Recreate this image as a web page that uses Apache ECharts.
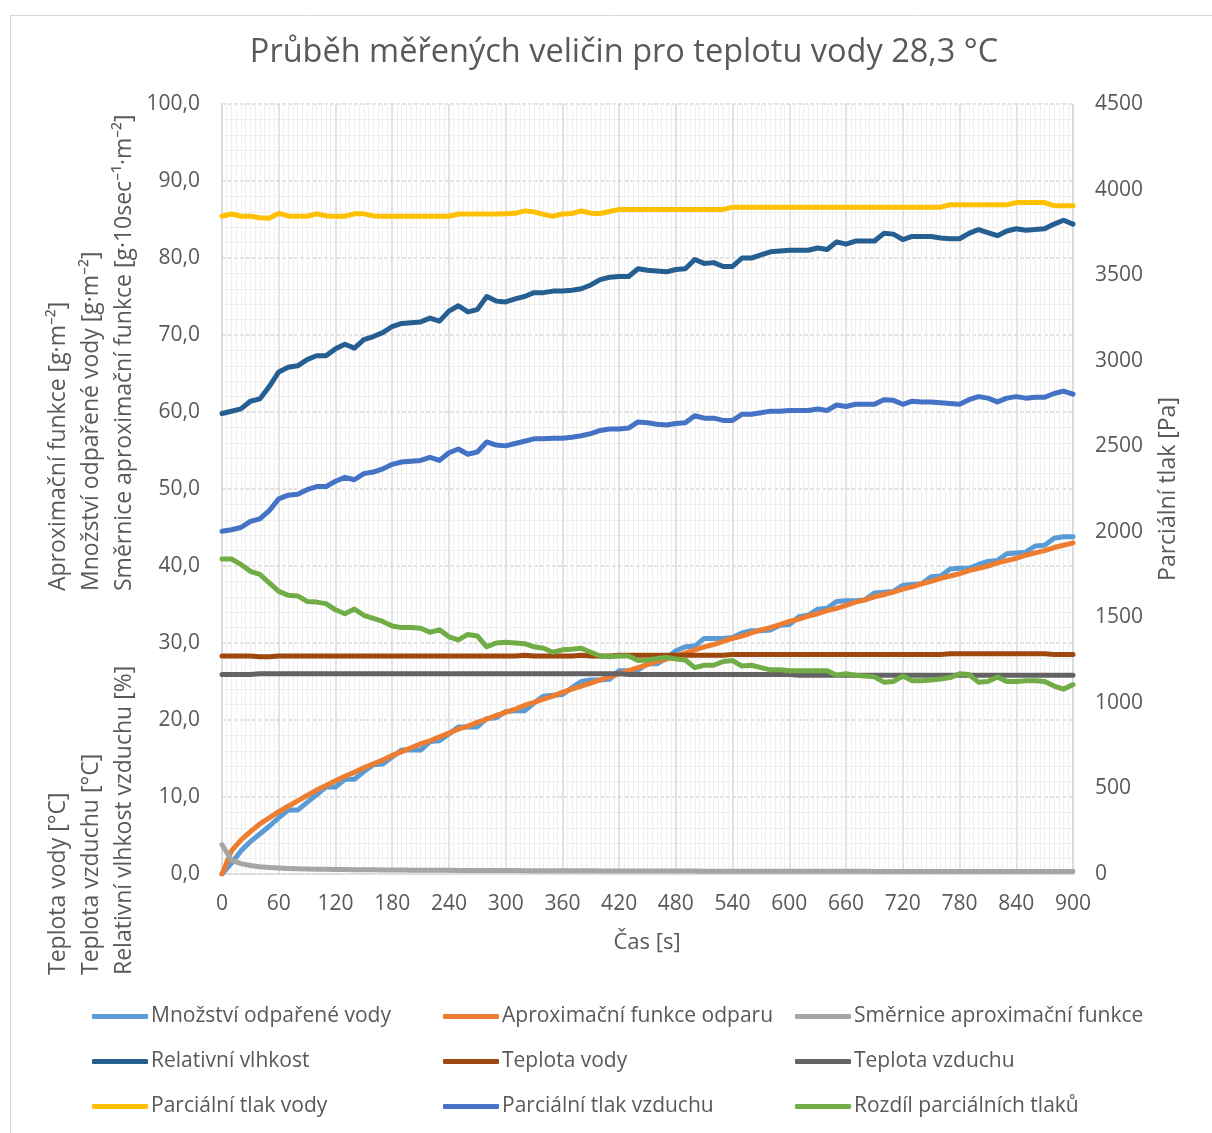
<!DOCTYPE html>
<html>
<head>
<meta charset="utf-8">
<script src="https://cdn.jsdelivr.net/npm/echarts@6/dist/echarts.min.js"></script>
<style>
html,body{margin:0;padding:0;background:#fff;}
#chart{width:1212px;height:1133px;}
</style>
</head>
<body>
<div id="chart"></div>
<script>
// ---- DATA ----
const casS = [0,10,20,30,40,50,60,70,80,90,100,110,120,130,140,150,160,170,180,190,200,210,220,230,240,250,260,270,280,290,300,310,320,330,340,350,360,370,380,390,400,410,420,430,440,450,460,470,480,490,500,510,520,530,540,550,560,570,580,590,600,610,620,630,640,650,660,670,680,690,700,710,720,730,740,750,760,770,780,790,800,810,820,830,840,850,860,870,880,890,900];
const xTicks = [0,60,120,180,240,300,360,420,480,540,600,660,720,780,840,900];

const mnozstviOdparene = [0.0,1.4,3.0,4.2,5.2,6.2,7.3,8.3,8.3,9.3,
10.3,11.3,11.3,12.3,12.3,13.3,14.2,14.3,15.2,16.1,
16.1,16.1,17.2,17.3,18.2,19.1,19.1,19.1,20.2,20.3,
21.1,21.2,21.2,22.2,23.1,23.2,23.3,24.2,25.0,25.2,
25.2,25.3,26.4,26.4,26.5,27.3,27.3,28.0,29.0,29.5,
29.6,30.6,30.6,30.6,30.7,31.3,31.6,31.6,31.7,32.3,
32.4,33.4,33.6,34.4,34.5,35.4,35.5,35.5,35.6,36.5,
36.6,36.7,37.5,37.6,37.7,38.6,38.7,39.6,39.7,39.7,
40.2,40.6,40.7,41.6,41.7,41.8,42.6,42.7,43.6,43.8,
43.8];

const aproximacniFce = [0.0,3.0,4.4,5.5,6.5,7.3,8.1,8.8,9.5,10.2,
10.9,11.5,12.1,12.7,13.2,13.8,14.3,14.8,15.4,15.9,
16.4,16.9,17.3,17.8,18.3,18.8,19.2,19.7,20.1,20.6,
21.0,21.4,21.9,22.3,22.7,23.1,23.6,24.0,24.4,24.8,
25.2,25.6,26.0,26.4,26.8,27.2,27.6,27.9,28.3,28.7,
29.1,29.5,29.8,30.2,30.6,30.9,31.3,31.7,32.0,32.4,
32.8,33.1,33.5,33.8,34.2,34.5,34.9,35.3,35.6,36.0,
36.3,36.6,37.0,37.3,37.7,38.0,38.4,38.7,39.0,39.4,
39.7,40.0,40.4,40.7,41.0,41.4,41.7,42.0,42.4,42.7,
43.0];

const smerniceFce = [3.8,1.8,1.35,1.1,0.95,0.85,0.78,0.73,0.69,0.66,
0.63,0.61,0.59,0.57,0.56,0.55,0.54,0.53,0.52,0.51,
0.50,0.50,0.49,0.48,0.48,0.47,0.46,0.46,0.45,0.45,
0.44,0.44,0.43,0.43,0.42,0.42,0.42,0.41,0.41,0.41,
0.40,0.40,0.40,0.39,0.39,0.39,0.39,0.38,0.38,0.38,
0.38,0.37,0.37,0.37,0.37,0.37,0.36,0.36,0.36,0.36,
0.36,0.36,0.35,0.35,0.35,0.35,0.35,0.35,0.35,0.34,
0.34,0.34,0.34,0.34,0.34,0.34,0.34,0.33,0.33,0.33,
0.33,0.33,0.33,0.33,0.33,0.33,0.32,0.32,0.32,0.32,
0.32];

const relativniVlhkost = [59.8,60.1,60.4,61.4,61.7,63.3,65.2,65.8,66.0,66.8,
67.3,67.3,68.2,68.8,68.3,69.4,69.8,70.3,71.1,71.5,
71.6,71.7,72.2,71.8,73.1,73.8,73.0,73.3,75.0,74.4,
74.3,74.7,75.0,75.5,75.5,75.7,75.7,75.8,76.0,76.5,
77.2,77.5,77.6,77.6,78.6,78.4,78.3,78.2,78.5,78.6,
79.8,79.3,79.4,78.9,78.9,80.0,80.0,80.4,80.8,80.9,
81.0,81.0,81.0,81.3,81.1,82.1,81.8,82.2,82.2,82.2,
83.2,83.1,82.4,82.8,82.8,82.8,82.6,82.5,82.5,83.2,
83.7,83.3,82.9,83.5,83.8,83.6,83.7,83.8,84.4,84.9,
84.4];

const teplotaVody = [28.3,28.3,28.3,28.3,28.2,28.2,28.3,28.3,28.3,28.3,
28.3,28.3,28.3,28.3,28.3,28.3,28.3,28.3,28.3,28.3,
28.3,28.3,28.3,28.3,28.3,28.3,28.3,28.3,28.3,28.3,
28.3,28.3,28.4,28.3,28.3,28.3,28.3,28.3,28.4,28.3,
28.3,28.3,28.4,28.4,28.4,28.4,28.4,28.4,28.4,28.4,
28.4,28.4,28.4,28.4,28.5,28.5,28.5,28.5,28.5,28.5,
28.5,28.5,28.5,28.5,28.5,28.5,28.5,28.5,28.5,28.5,
28.5,28.5,28.5,28.5,28.5,28.5,28.5,28.6,28.6,28.6,
28.6,28.6,28.6,28.6,28.6,28.6,28.6,28.6,28.5,28.5,
28.5];

const teplotaVzduchu = [25.9,25.9,25.9,25.9,26.0,26.0,26.0,26.0,26.0,26.0,
26.0,26.0,26.0,26.0,26.0,26.0,26.0,26.0,26.0,26.0,
26.0,26.0,26.0,26.0,26.0,26.0,26.0,26.0,26.0,26.0,
26.0,26.0,26.0,26.0,26.0,26.0,26.0,26.0,26.0,26.0,
26.0,26.0,26.0,25.9,25.9,25.9,25.9,25.9,25.9,25.9,
25.9,25.9,25.9,25.9,25.9,25.9,25.9,25.9,25.9,25.9,
25.9,25.8,25.8,25.8,25.8,25.8,25.8,25.8,25.8,25.8,
25.8,25.8,25.8,25.8,25.8,25.8,25.8,25.8,25.8,25.8,
25.8,25.8,25.8,25.8,25.8,25.8,25.8,25.8,25.8,25.8,
25.8];

const parcTlakVody = [3844,3857,3844,3844,3835,3832,3861,3846,3844,3844,
3858,3846,3844,3844,3858,3858,3846,3844,3844,3844,
3844,3844,3844,3844,3844,3857,3857,3857,3857,3857,
3859,3861,3875,3870,3855,3843,3857,3860,3875,3862,
3860,3872,3884,3884,3884,3884,3884,3884,3884,3884,
3884,3884,3884,3884,3897,3897,3897,3897,3897,3897,
3897,3897,3897,3897,3897,3897,3897,3897,3897,3897,
3897,3897,3897,3897,3897,3897,3897,3911,3911,3911,
3911,3911,3911,3911,3924,3924,3924,3924,3906,3906,
3906];

const parcTlakVzduchu = [2003,2012,2025,2061,2075,2124,2192,2214,2219,2246,
2264,2264,2295,2318,2304,2340,2349,2367,2394,2408,
2412,2417,2435,2417,2462,2484,2453,2466,2525,2507,
2502,2516,2529,2543,2543,2547,2547,2552,2561,2574,
2592,2601,2601,2606,2642,2637,2628,2624,2633,2637,
2678,2664,2664,2651,2651,2687,2687,2696,2705,2705,
2709,2709,2709,2718,2709,2741,2732,2745,2745,2745,
2772,2768,2745,2763,2759,2759,2754,2750,2745,2772,
2790,2781,2759,2781,2790,2781,2786,2786,2808,2822,
2804];

const rozdilTlaku = [1841,1841,1809,1769,1751,1701,1652,1629,1625,1593,
1589,1580,1544,1521,1548,1512,1494,1476,1449,1440,
1440,1436,1413,1427,1386,1368,1400,1391,1328,1350,
1355,1350,1346,1328,1319,1296,1310,1314,1319,1296,
1274,1269,1274,1274,1247,1251,1260,1265,1256,1251,
1206,1220,1220,1242,1247,1215,1220,1206,1193,1193,
1188,1188,1188,1188,1188,1161,1170,1161,1157,1152,
1121,1125,1157,1130,1130,1134,1139,1148,1170,1166,
1121,1125,1152,1125,1125,1130,1130,1125,1098,1080,
1107];

const leftTicks = [0,10,20,30,40,50,60,70,80,90,100];
const rightTicks = [0,500,1000,1500,2000,2500,3000,3500,4000,4500];

// ---- CHART ----
const TEXT = '#595959';
const FONT = '"Open Sans", "Noto Sans", sans-serif';
const chart = echarts.init(document.getElementById('chart'), null, {renderer:'canvas'});

function mk(name, arr, color, yIdx){
  return {
    name: name, type:'line', yAxisIndex: yIdx,
    data: casS.map((t,i)=>[t, arr[i]]),
    showSymbol:false, symbol:'none', smooth:false,
    lineStyle:{color:color, width:5, cap:'round', join:'round'},
    itemStyle:{color:color},
    emphasis:{disabled:true},
    animation:false
  };
}

const legendText = {fontSize:21, color:TEXT, fontFamily:FONT, padding:[0,0,0,-2]};
const legendBase = {orient:'vertical', top:1006, padding:0, itemWidth:56, itemHeight:5, itemGap:24,
  icon:'roundRect', textStyle:legendText, selectedMode:false};

const option = {
  backgroundColor:'#fff',
  animation:false,
  textStyle:{fontFamily:FONT},
  grid:{left:222, right:139, top:104, bottom:259, containLabel:false},
  xAxis:{
    type:'value', min:0, max:900, interval:60,
    axisLine:{show:true, lineStyle:{color:'#d9d9d9', width:1.5}},
    axisTick:{show:false},
    axisLabel:{fontSize:21, color:TEXT, margin:20, fontFamily:FONT,
      customValues: xTicks},
    splitLine:{show:true, lineStyle:{color:'#d9d9d9', width:1.5}},
    minorTick:{show:false, splitNumber:12},
    minorSplitLine:{show:true, lineStyle:{color:'#efefef', width:1}}
  },
  yAxis:[
    {
      type:'value', min:0, max:100, interval:10,
      axisLine:{show:true, lineStyle:{color:'#d9d9d9', width:1.5}},
      axisTick:{show:false},
      axisLabel:{fontSize:21, color:TEXT, margin:22, fontFamily:FONT,
        formatter:v=>v.toFixed(1).replace('.',',')},
      splitLine:{show:true, lineStyle:{color:'#d9d9d9', width:1.5, type:[4,2]}},
      minorTick:{show:false, splitNumber:5},
      minorSplitLine:{show:true, lineStyle:{color:'#efefef', width:1}}
    },
    {
      type:'value', min:0, max:4500, interval:500, position:'right',
      axisLine:{show:true, lineStyle:{color:'#d9d9d9', width:1.5}},
      axisTick:{show:false},
      axisLabel:{fontSize:21, color:TEXT, margin:22, fontFamily:FONT,
        formatter:v=>String(v)},
      splitLine:{show:false}
    }
  ],
  legend:[
    Object.assign({left:92, data:['Množství odpařené vody','Relativní vlhkost','Parciální tlak vody']}, legendBase),
    Object.assign({left:443, data:['Aproximační funkce odparu','Teplota vody','Parciální tlak vzduchu']}, legendBase),
    Object.assign({left:795, data:['Směrnice aproximační funkce','Teplota vzduchu','Rozdíl parciálních tlaků']}, legendBase)
  ],
  series:[
    mk('Množství odpařené vody', mnozstviOdparene, '#5B9BD5', 0),
    mk('Aproximační funkce odparu', aproximacniFce, '#ED7D31', 0),
    mk('Směrnice aproximační funkce', smerniceFce, '#A5A5A5', 0),
    mk('Relativní vlhkost', relativniVlhkost, '#255E91', 0),
    mk('Teplota vody', teplotaVody, '#9E480E', 0),
    mk('Teplota vzduchu', teplotaVzduchu, '#636363', 0),
    mk('Parciální tlak vody', parcTlakVody, '#FFC000', 1),
    mk('Parciální tlak vzduchu', parcTlakVzduchu, '#4472C4', 1),
    mk('Rozdíl parciálních tlaků', rozdilTlaku, '#70AD47', 1)
  ],
  graphic:[
    {type:'rect', silent:true, z:-10, shape:{x:10.5, y:15.5, width:1215, height:1130},
      style:{fill:null, stroke:'#d9d9d9', lineWidth:1}},
    {type:'text', silent:true, x:624, y:53,
      style:{text:'Průběh měřených veličin pro teplotu vody 28,3 °C', font:'32.5px '+FONT, fill:TEXT, align:'center', verticalAlign:'middle'}},
    {type:'text', silent:true, x:647, y:943,
      style:{text:'Čas [s]', font:'22px '+FONT, fill:TEXT, align:'center', verticalAlign:'middle'}},
    {type:'text', silent:true, x:1168, y:489, rotation:Math.PI/2,
      style:{text:'Parciální tlak [Pa]', font:'23px '+FONT, fill:TEXT, align:'center', verticalAlign:'middle'}},
    {type:'text', silent:true, x:58, y:591, rotation:Math.PI/2,
      style:{text:'Aproximační funkce [g·m⁻²]', font:'23px '+FONT, fill:TEXT, align:'left', verticalAlign:'middle'}},
    {type:'text', silent:true, x:91, y:591, rotation:Math.PI/2,
      style:{text:'Množství odpařené vody [g·m⁻²]', font:'23px '+FONT, fill:TEXT, align:'left', verticalAlign:'middle'}},
    {type:'text', silent:true, x:124, y:591, rotation:Math.PI/2,
      style:{text:'Směrnice aproximační funkce [g·10sec⁻¹·m⁻²]', font:'23px '+FONT, fill:TEXT, align:'left', verticalAlign:'middle'}},
    {type:'text', silent:true, x:58, y:975, rotation:Math.PI/2,
      style:{text:'Teplota vody [°C]', font:'23px '+FONT, fill:TEXT, align:'left', verticalAlign:'middle'}},
    {type:'text', silent:true, x:91, y:975, rotation:Math.PI/2,
      style:{text:'Teplota vzduchu [°C]', font:'23px '+FONT, fill:TEXT, align:'left', verticalAlign:'middle'}},
    {type:'text', silent:true, x:124, y:975, rotation:Math.PI/2,
      style:{text:'Relativní vlhkost vzduchu [%]', font:'23px '+FONT, fill:TEXT, align:'left', verticalAlign:'middle'}}
  ]
};
chart.setOption(option);
</script>
</body>
</html>
